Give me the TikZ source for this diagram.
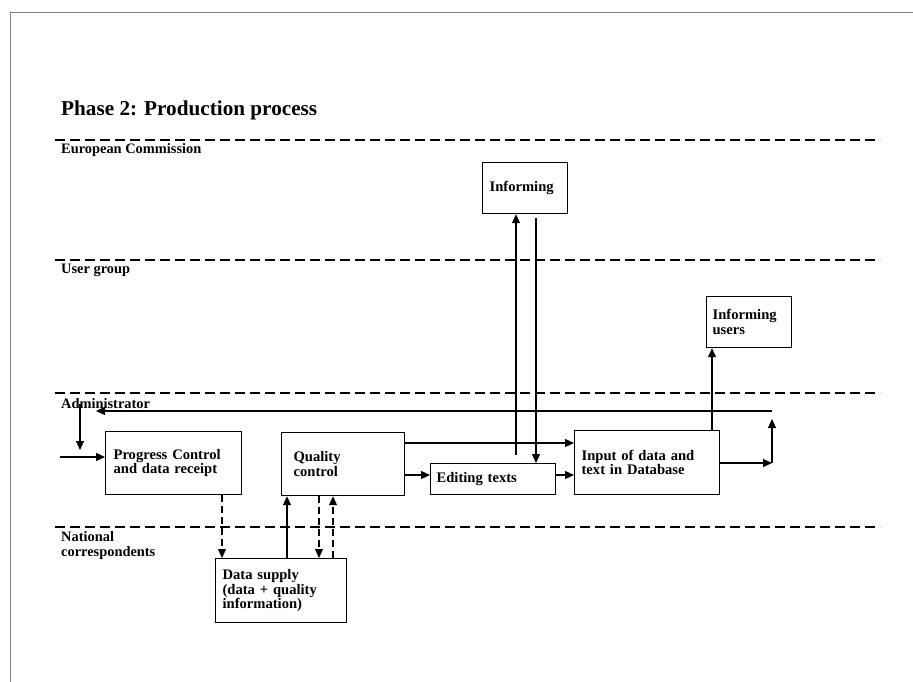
\documentclass[tikz,border=0pt]{standalone}
\usepackage{fontspec}
\setmainfont{Liberation Serif}
\usetikzlibrary{arrows.meta}
\begin{document}
\begin{tikzpicture}[x=1pt,y=-1pt,
  box/.style={draw, line width=1.2pt, rectangle, anchor=north west, align=left,
    inner ysep=0pt, font=\fontsize{14.6}{14.5}\selectfont\bfseries},
  lane/.style={line width=1.1pt, dash pattern=on 10pt off 5pt},
  lbl/.style={anchor=west, inner sep=0pt, align=left, font=\fontsize{14.4}{15}\selectfont\bfseries},
  arr/.style={line width=1.1pt, -{Triangle[length=9pt,width=8pt]}},
  darr/.style={arr, dash pattern=on 7pt off 4pt}]
\useasboundingbox (0,0) rectangle (913,682);
% frame
\draw[gray, line width=1pt] (10,682) -- (10,13) -- (913,13);
% title
\node[anchor=west, inner sep=0pt, font=\fontsize{21.2}{21}\selectfont\bfseries] (title) at (61,110) {Phase 2: Production process};
% lanes
\draw[lane] (55,140) -- (880,140);
\draw[lane] (55,260) -- (880,260);
\draw[lane] (55,393) -- (880,393);
\draw[lane] (55,527) -- (880,527);
\node[lbl] (lEC) at (61,150) {European Commission};
\node[lbl] (lUG) at (61,270) {User group};
\node[lbl] (lAD) at (61,404) {Administrator};
\node[lbl] (lNC) at (61,545.5) {National\\correspondents};
% boxes
\node[box, inner xsep=8pt, minimum height=63pt, text width=120pt] (pc) at (105,431) {Progress Control\\and data receipt};
\node[box, inner xsep=12pt, minimum height=63pt, text width=99pt] (qc) at (281,432) {Quality\\control};
\node[box, inner xsep=6pt, minimum height=31pt, text width=113pt] (et) at (430,463) {Editing texts};
\node[box, inner xsep=7pt, minimum height=64pt, text width=131pt] (ip) at (574,430) {Input of data and\\text in Database};
\node[box, inner xsep=7pt, minimum height=51pt, text width=71pt] (inf) at (482,162) {Informing};
\node[box, inner xsep=6pt, minimum height=51pt, text width=73pt] (iu) at (706,296) {Informing\\users};
\node[box, inner xsep=7pt, minimum height=64pt, text width=117pt] (ds) at (215,558) {Data supply\\(data + quality\\information)};
% connectors
\coordinate (src) at (60,457);
\draw[arr] (src) -- (src -| pc.west);
\coordinate (admtop) at (80,404);
\coordinate (admbot) at (80,450);
\draw[arr] (admtop) -- (admbot);
\coordinate (fbR) at (772,411);
\coordinate (fbL) at (96,411);
\draw[arr] (fbR) -- (fbL);
\coordinate (outR) at (772,463);
\coordinate (outUp) at (772,419);
\draw[arr] (ip.east |- outR) -- (outR);
\draw[arr] (outR) -- (outUp);
\coordinate (r1) at (0,443);
\draw[arr] (qc.east |- r1) -- (ip.west |- r1);
\coordinate (r2) at (0,475);
\draw[arr] (qc.east |- r2) -- (et.west |- r2);
\draw[arr] (et.east |- r2) -- (ip.west |- r2);
\coordinate (u1) at (516,455);
\draw[arr] (u1) -- (u1 |- inf.south);
\coordinate (d1) at (536,218);
\draw[arr] (d1) -- (d1 |- et.north);
\coordinate (x712) at (712,0);
\draw[arr] (ip.north -| x712) -- (iu.south -| x712);
\coordinate (c1) at (222,0);
\coordinate (c2) at (287,0);
\coordinate (c3) at (319,0);
\coordinate (c4) at (333,0);
\draw[darr] (pc.south -| c1) -- (ds.north -| c1);
\draw[arr] (ds.north -| c2) -- (qc.south -| c2);
\draw[darr] (qc.south -| c3) -- (ds.north -| c3);
\draw[darr] (ds.north -| c4) -- (qc.south -| c4);
\end{tikzpicture}
\end{document}
